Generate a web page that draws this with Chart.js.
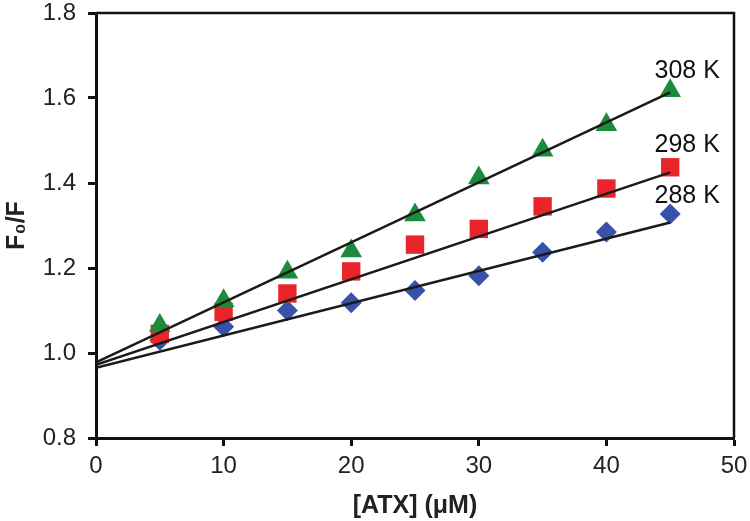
<!DOCTYPE html>
<html>
<head>
<meta charset="utf-8">
<script src="https://cdn.jsdelivr.net/npm/chart.js@4.4.1/dist/chart.umd.min.js"></script>
<style>
  html, body { margin: 0; padding: 0; background: #fff; }
  #wrap { width: 750px; height: 521px; }
</style>
</head>
<body>
<div id="wrap"><canvas id="myChart" width="750" height="521"></canvas></div>
<script>
// concentrations of ATX (uM)
const conc = [5, 10, 15, 20, 25, 30, 35, 40, 45]
const temps = ['308 K', '298 K', '288 K']

// F0/F
const f308 = [1.065, 1.123, 1.190, 1.240, 1.325, 1.412, 1.477, 1.537, 1.617]
const f298 = [1.045, 1.097, 1.140, 1.192, 1.255, 1.292, 1.345, 1.387, 1.437]
const f288 = [1.030, 1.062, 1.100, 1.118, 1.147, 1.182, 1.237, 1.285, 1.327]

// fitted lines, value at x = 0 and x = 45
const fitX = [0, 45]
const fit308 = [0.978, 1.613]
const fit298 = [0.972, 1.425]
const fit288 = [0.965, 1.307]

const colores = ['#1c8b3b', '#e9242a', '#3752a8']
const puntos = ['triangle', 'rect', 'rectRot']
const radios = [12.5, 13, 10.5]
const series = [f308, f298, f288]
const ajustes = [fit308, fit298, fit288]

const fuente = '"Liberation Sans", Arial, sans-serif'

function toXY(xs, ys){
    return xs.map(function(x, i){ return {x: x, y: ys[i]} })
}

let datasets = []
for(let i = 0; i < 3; i++){
    datasets.push({
        label: temps[i] + ' fit',
        type: 'line',
        data: toXY(fitX, ajustes[i]),
        borderColor: '#1a1a1a',
        borderWidth: 2.5,
        pointRadius: 0,
        fill: false,
        order: 0
    })
}
for(let i = 0; i < 3; i++){
    datasets.push({
        label: temps[i],
        type: 'scatter',
        data: toXY(conc, series[i]),
        backgroundColor: colores[i],
        borderColor: colores[i],
        borderWidth: 0,
        pointStyle: puntos[i],
        pointRadius: radios[i],
        pointHoverRadius: radios[i],
        order: 1
    })
}

// frame on top/right and the temperature labels
const extras = {
    id: 'extras',
    afterDatasetsDraw(chart){
        const ctx = chart.ctx
        const a = chart.chartArea
        ctx.save()
        ctx.strokeStyle = '#111'
        ctx.lineWidth = 2.5
        ctx.beginPath()
        ctx.moveTo(a.left, a.top)
        ctx.lineTo(a.right, a.top)
        ctx.lineTo(a.right, a.bottom)
        ctx.stroke()

        const xs = chart.scales.x
        const ys = chart.scales.y
        const up = [13, 15, 11]
        ctx.fillStyle = '#111'
        ctx.font = '25px ' + fuente
        ctx.textAlign = 'center'
        ctx.textBaseline = 'alphabetic'
        for(let i = 0; i < 3; i++){
            const last = series[i][series[i].length - 1]
            const px = xs.getPixelForValue(conc[conc.length - 1]) + 17
            const py = ys.getPixelForValue(last) - up[i]
            ctx.fillText(temps[i], px, py)
        }
        ctx.restore()
    }
}

const ctx = document.getElementById('myChart').getContext('2d')
const chart = new Chart(ctx, {
    data: { datasets: datasets },
    options: {
        responsive: false,
        animation: false,
        layout: { padding: { top: 12, right: 16, left: 0, bottom: 0 } },
        plugins: {
            legend: { display: false },
            tooltip: { enabled: false }
        },
        scales: {
            x: {
                type: 'linear',
                min: 0,
                max: 50,
                ticks: {
                    stepSize: 10,
                    color: '#222',
                    padding: 6,
                    font: { family: fuente, size: 24 }
                },
                grid: {
                    drawOnChartArea: false,
                    drawTicks: true,
                    tickLength: 8,
                    tickWidth: 3,
                    tickColor: '#111'
                },
                border: { color: '#111', width: 3 },
                title: {
                    display: true,
                    text: '[ATX] (μM)',
                    color: '#222',
                    font: { family: fuente, size: 25, weight: 'bold' },
                    padding: { top: 0, bottom: 0 }
                },
                afterFit: function(scale){
                    scale.height = 83
                    scale.paddingLeft = 0
                    scale.paddingRight = 0
                }
            },
            y: {
                type: 'linear',
                min: 0.8,
                max: 1.8,
                ticks: {
                    stepSize: 0.2,
                    color: '#222',
                    padding: 12,
                    font: { family: fuente, size: 24 },
                    callback: function(v){ return v.toFixed(1) }
                },
                grid: {
                    drawOnChartArea: false,
                    drawTicks: true,
                    tickLength: 8,
                    tickWidth: 3,
                    tickColor: '#111'
                },
                border: { color: '#111', width: 3 },
                title: {
                    display: true,
                    text: 'F₀/F',
                    color: '#222',
                    font: { family: fuente, size: 25, weight: 'bold' },
                    padding: { top: 2, bottom: 0 }
                },
                afterFit: function(scale){
                    scale.width = 96
                    scale.paddingTop = 0
                    scale.paddingBottom = 0
                }
            }
        }
    },
    plugins: [extras]
})
</script>
</body>
</html>
